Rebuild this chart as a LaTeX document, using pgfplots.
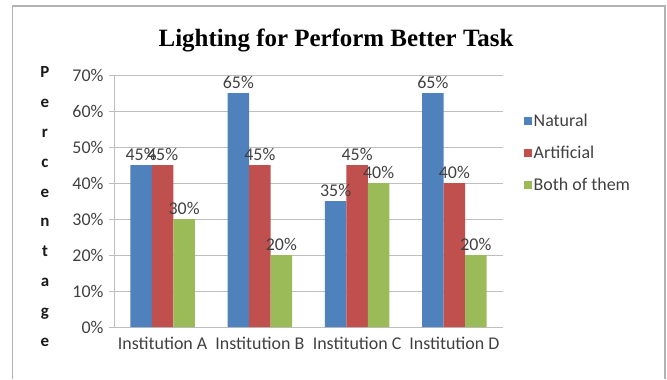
\documentclass[border=0pt]{standalone}
\usepackage{pgfplots}
\pgfplotsset{compat=1.18}
\usepackage{fontspec}
\setmainfont{Carlito}
\newfontfamily\titlefont{Liberation Serif}
\definecolor{cblue}{HTML}{4F81BD}
\definecolor{cred}{HTML}{C0504D}
\definecolor{cgreen}{HTML}{9BBB59}
\definecolor{txt}{HTML}{404040}
\definecolor{gridc}{HTML}{BEBEBE}
\begin{document}
\begin{tikzpicture}[x=1bp,y=1bp]
\path (0,0) rectangle (667,377);
\draw[color=gray!60,line width=1.2bp] (12.5,-2) -- (12.5,371) -- (665,371) -- (665,-2);
\node[font=\titlefont\bfseries\fontsize{25}{28}\selectfont] at (336,337) {Lighting for Perform Better Task};
\node[font=\bfseries\fontsize{17}{30}\selectfont, align=center, anchor=north, text=black!90] at (45,314) {P\\e\\r\\c\\e\\n\\t\\a\\g\\e};
\begin{axis}[
  at={(114bp,50bp)}, anchor=south west,
  scale only axis, width=389bp, height=252bp,
  ybar=0pt, bar width=21.5bp,
  xmin=-0.5, xmax=3.5, ymin=0, ymax=70,
  /pgf/number format/assume math mode=true,
  xtick={0,1,2,3},
  xticklabels={Institution A,Institution B,Institution C,Institution D},
  major x tick style={draw=none},
  extra x ticks={-0.5,0.5,1.5,2.5,3.5},
  extra x tick labels={},
  extra x tick style={major tick length=5bp, tick align=outside, tick style={draw=gridc, line width=0.9bp}},
  ytick={0,10,...,70},
  yticklabel={\pgfmathprintnumber{\tick}\%},
  ymajorgrids, grid style={draw=gridc, line width=0.9bp},
  y tick style={draw=gridc, line width=0.9bp},
  tick align=outside, major tick length=5bp,
  axis line style={draw=gridc, line width=0.9bp},
  axis x line*=bottom, axis y line*=left,
  tick label style={font=\fontsize{18}{20}\selectfont, text=txt},
  xticklabel style={yshift=-2bp},
  yticklabel style={xshift=-2bp},
  nodes near coords={\pgfmathprintnumber{\pgfplotspointmeta}\%},
  every node near coord/.append style={font=\fontsize{18}{20}\selectfont, text=txt, yshift=1bp},
  legend style={at={(1.045,0.69)}, anchor=west, draw=none, fill=none,
    font=\fontsize{18}{20}\selectfont, text=txt, row sep=14bp,
    /tikz/every even column/.append style={column sep=2bp}},
  legend cell align=left,
  legend image code/.code={\fill[#1] (0bp,-4bp) rectangle (8bp,4bp);},
]
\addplot[fill=cblue, draw=none] coordinates {(0,45) (1,65) (2,35) (3,65)};
\addplot[fill=cred, draw=none] coordinates {(0,45) (1,45) (2,45) (3,40)};
\addplot[fill=cgreen, draw=none] coordinates {(0,30) (1,20) (2,40) (3,20)};
\legend{Natural,Artificial,Both of them}
\end{axis}
\end{tikzpicture}
\end{document}
